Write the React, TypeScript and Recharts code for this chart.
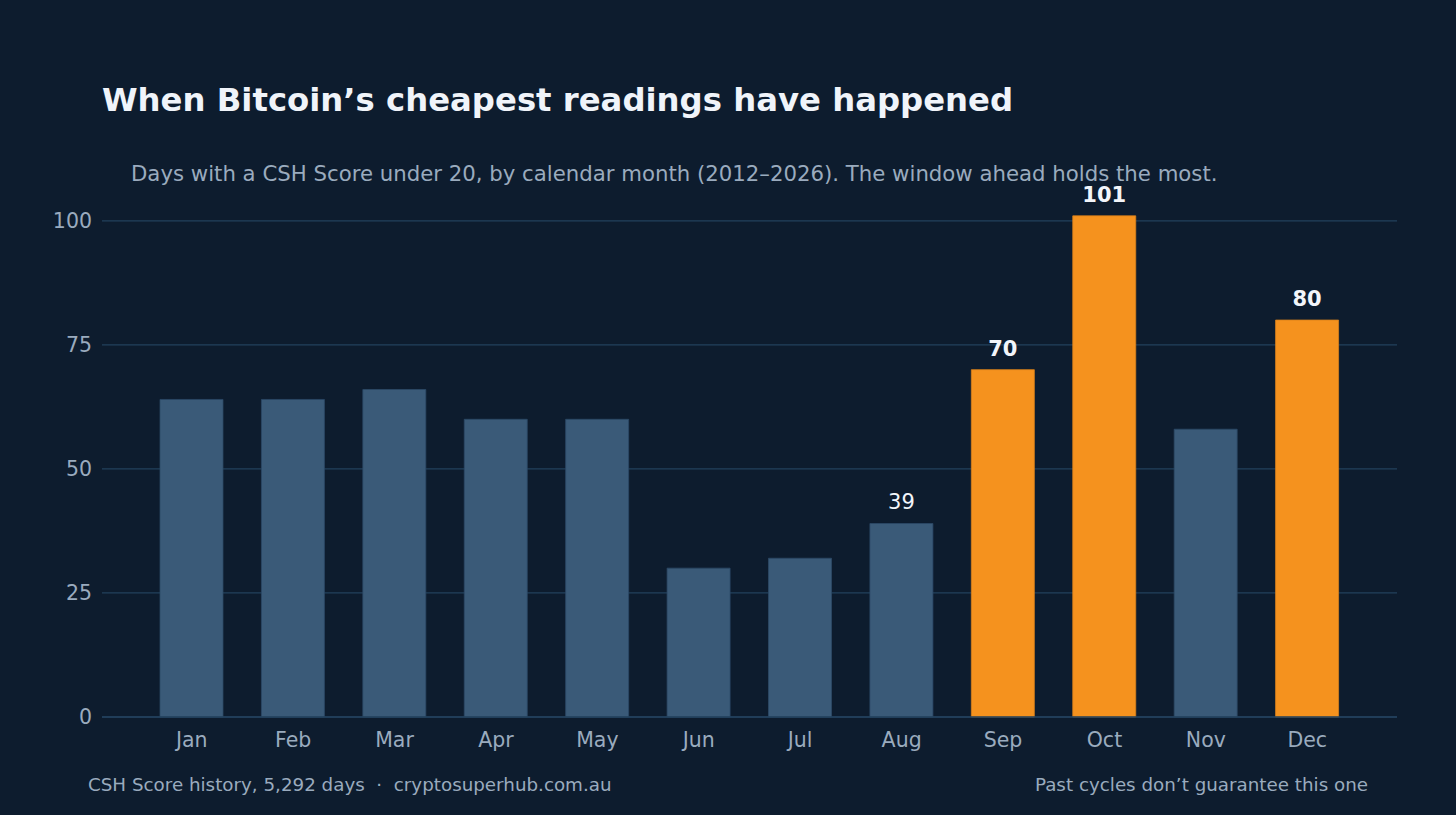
import { BarChart, Bar, XAxis, YAxis, CartesianGrid, Cell, LabelList } from "recharts";

const MONTHS = ["Jan", "Feb", "Mar", "Apr", "May", "Jun", "Jul", "Aug", "Sep", "Oct", "Nov", "Dec"];
const DAYS = [64, 64, 66, 60, 60, 30, 32, 39, 70, 101, 58, 80];
const HIGHLIGHT = ["Sep", "Oct", "Dec"];
const LABELLED = ["Aug", "Sep", "Oct", "Dec"];
const Y_TICKS = [0, 25, 50, 75, 100];

const BG = "#0d1c2e";
const BAR = "#3a5a78";
const ORANGE = "#f5921e";
const GRID = "#22405d";
const MUTED = "#9aabbe";
const FONT = "DejaVu Sans, sans-serif";

const rows = MONTHS.map((m, i) => ({ month: m, days: DAYS[i] }));

// only a few bars get a value on top; the orange ones are bold
// eslint-disable-next-line @typescript-eslint/no-explicit-any
function TopLabel(props: any) {
  const { x, y, width, value, index } = props;
  const m = MONTHS[index];
  if (!LABELLED.includes(m)) return null;
  const bold = HIGHLIGHT.includes(m);
  return (
    <text x={x + width / 2} y={y - 14} textAnchor="middle" fill="#f2f5fa"
      style={{ fontSize: 21, fontWeight: bold ? 700 : 400, fontFamily: FONT }}>
      {value}
    </text>
  );
}

export default function App() {
  return (
    <div style={{ position: "absolute", left: 0, top: 0, width: 1456, height: 815, background: BG, fontFamily: FONT }}>
      <BarChart width={1456} height={815} data={rows} margin={{ top: 196, right: 59, bottom: 0, left: 0 }}>
        <CartesianGrid vertical={false} horizontalValues={Y_TICKS} stroke={GRID} strokeWidth={1.3} />
        <XAxis dataKey="month" padding={{ left: 39, right: 39 }} height={98}
          axisLine={{ stroke: GRID, strokeWidth: 1.3 }} tickLine={false} tickMargin={9}
          tick={{ fill: MUTED, fontSize: 20.5, fontFamily: FONT }} />
        <YAxis domain={[0, 105]} ticks={Y_TICKS} width={102} axisLine={false} tickLine={false}
          tickMargin={4} tick={{ fill: MUTED, fontSize: 20.5, fontFamily: FONT }} />
        <Bar dataKey="days" barSize={63} isAnimationActive={false} strokeWidth={0.8}>
          {rows.map((r) => (
            <Cell key={r.month} fill={HIGHLIGHT.includes(r.month) ? ORANGE : BAR}
              stroke={HIGHLIGHT.includes(r.month) ? "#d9801a" : "#2c4966"} />
          ))}
          <LabelList dataKey="days" content={TopLabel} />
        </Bar>
      </BarChart>
      <svg width={1456} height={815} style={{ position: "absolute", left: 0, top: 0, pointerEvents: "none" }}>
        <text x={102} y={111} fill="#f0f4fa" style={{ fontSize: 32.3, fontWeight: 700, fontFamily: FONT }}>
          When Bitcoin’s cheapest readings have happened
        </text>
        <text x={131} y={181} fill={MUTED} style={{ fontSize: 21.25, fontFamily: FONT }}>
          Days with a CSH Score under 20, by calendar month (2012–2026). The window ahead holds the most.
        </text>
        <text x={88} y={791} fill={MUTED} xmlSpace="preserve" style={{ fontSize: 18.3, fontFamily: FONT, whiteSpace: "pre" }}>
          {"CSH Score history, 5,292 days  \u00b7  cryptosuperhub.com.au"}
        </text>
        <text x={1368} y={791} textAnchor="end" fill={MUTED} style={{ fontSize: 18.3, fontFamily: FONT }}>
          Past cycles don’t guarantee this one
        </text>
      </svg>
    </div>
  );
}
